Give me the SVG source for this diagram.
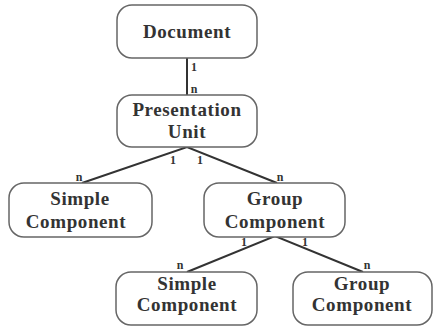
<svg xmlns="http://www.w3.org/2000/svg" width="434" height="332" viewBox="0 0 434 332">
<style>
.box{fill:#fff;stroke:#666;stroke-width:1.5}
.t{font-family:"Liberation Serif",serif;font-weight:bold;font-size:19px;fill:#333;text-anchor:middle;letter-spacing:0.6px}
.c{stroke:#333;stroke-width:2;fill:none}
.l{font-family:"Liberation Serif",serif;font-weight:bold;font-size:12px;fill:#333;text-anchor:middle}
</style>
<rect width="434" height="332" fill="#fff"/>
<g id="connectors">
<line class="c" x1="187" y1="58" x2="187" y2="95"/>
<polyline class="c" points="82,183 187,147 277,183"/>
<polyline class="c" points="187,272 275,236 363,272"/>
<text class="l" x="194" y="71">1</text>
<text class="l" x="194" y="93">n</text>
<text class="l" x="173" y="164">1</text>
<text class="l" x="200" y="164">1</text>
<text class="l" x="79" y="181">n</text>
<text class="l" x="280" y="181">n</text>
<text class="l" x="244" y="246">1</text>
<text class="l" x="305" y="246">1</text>
<text class="l" x="180" y="269">n</text>
<text class="l" x="367" y="269">n</text>
</g>
<g id="document">
<rect class="box" x="117" y="5" width="140" height="53" rx="15"/>
<text class="t" x="187" y="38">Document</text>
</g>
<g id="presentation-unit">
<rect class="box" x="117" y="95" width="140" height="52" rx="15"/>
<text class="t" x="187" y="116">Presentation</text>
<text class="t" x="187" y="138">Unit</text>
</g>
<g id="simple-component-1">
<rect class="box" x="9" y="183" width="143" height="54" rx="15"/>
<text class="t" x="80" y="205">Simple</text>
<text class="t" x="76" y="228">Component</text>
</g>
<g id="group-component-1">
<rect class="box" x="204" y="183" width="141" height="54" rx="15"/>
<text class="t" x="275" y="205">Group</text>
<text class="t" x="275" y="228">Component</text>
</g>
<g id="simple-component-2">
<rect class="box" x="116" y="272" width="141" height="53" rx="15"/>
<text class="t" x="187" y="290">Simple</text>
<text class="t" x="187" y="311">Component</text>
</g>
<g id="group-component-2">
<rect class="box" x="293" y="272" width="139" height="53" rx="15"/>
<text class="t" x="362" y="290">Group</text>
<text class="t" x="362" y="311">Component</text>
</g>
</svg>
